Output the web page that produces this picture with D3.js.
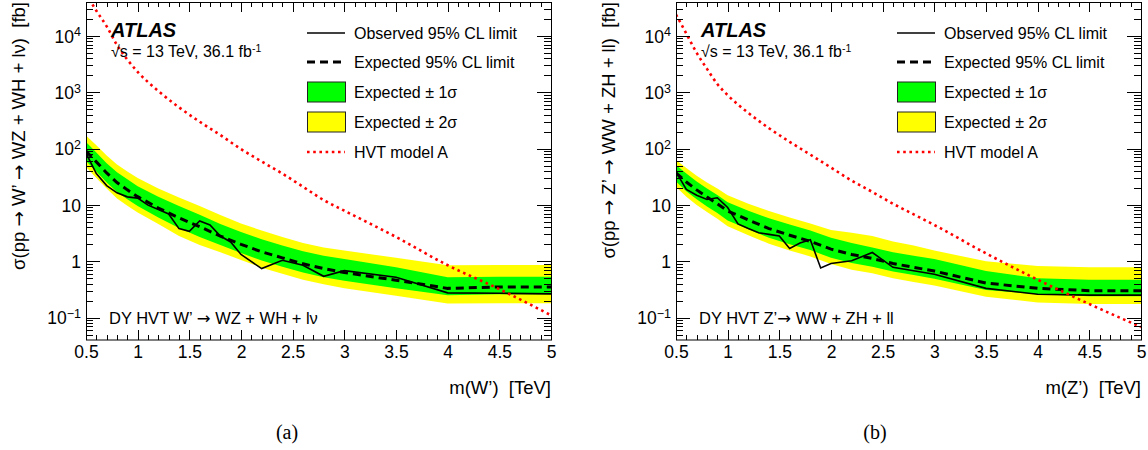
<!DOCTYPE html>
<html>
<head>
<meta charset="utf-8">
<script src="https://cdn.jsdelivr.net/npm/d3@7"></script>
<style>
  body { margin: 0; background: #fff; }
  svg { display: block; }
  text { font-family: "Liberation Sans", Arial, Helvetica, sans-serif; fill: #000; white-space: pre; }
</style>
</head>
<body>
<svg id="chart" width="1148" height="450"></svg>
<script>
// mass points (TeV) of the expected limit and its bands, same for both panels
const massGrid = [0.5, 0.6, 0.7, 0.8, 0.9, 1.0, 1.2, 1.4, 1.6, 1.8, 2.0, 2.2, 2.4, 2.6, 2.8, 3.0, 3.5, 4.0, 4.5, 5.0];

// (a) W' -> WZ + WH + lv   [fb]
const expA = [90, 58, 37, 25, 18.5, 14, 8.8, 5.9, 4.1, 2.8, 2.0, 1.47, 1.15, 0.9, 0.74, 0.63, 0.46, 0.33, 0.35, 0.35];
const plus2A = [170, 115, 75, 52, 39, 30, 19.5, 13.5, 9.6, 6.6, 4.7, 3.5, 2.7, 2.1, 1.75, 1.55, 1.15, 0.85, 0.86, 0.86];
const plus1A = [131, 85, 55, 38, 28.5, 21.5, 14, 9.6, 6.7, 4.6, 3.3, 2.45, 1.9, 1.5, 1.25, 1.1, 0.78, 0.52, 0.53, 0.53];
const minus1A = [60, 39, 25, 17, 12.6, 9.6, 6.0, 3.9, 2.7, 1.95, 1.4, 1.03, 0.8, 0.63, 0.52, 0.45, 0.33, 0.25, 0.26, 0.26];
const minus2A = [47, 30, 19.5, 13, 9.7, 7.3, 4.6, 2.8, 1.95, 1.45, 1.05, 0.77, 0.6, 0.47, 0.39, 0.33, 0.245, 0.178, 0.18, 0.18];
const obsMassA = [0.5, 0.6, 0.7, 0.8, 0.9, 1.0, 1.1, 1.2, 1.3, 1.4, 1.5, 1.6, 1.7, 1.8, 1.9, 2.0, 2.2, 2.4, 2.6, 2.8, 3.0, 3.5, 4.0, 4.5, 5.0];
const obsA = [83, 36, 22, 16.4, 13.9, 13.2, 9.9, 8.3, 6.9, 3.8, 3.4, 5.2, 4.4, 2.8, 2.2, 1.32, 0.74, 1.04, 0.85, 0.54, 0.68, 0.52, 0.275, 0.27, 0.264];
const hvtA = [56000, 28000, 14800, 6900, 3800, 2300, 1050, 540, 300, 174, 98, 59, 36, 21, 12.2, 7.9, 2.7, 0.85, 0.32, 0.11];

// (b) Z' -> WW + ZH + ll   [fb]
const expB = [37, 25.5, 18.5, 13.8, 10.5, 7.8, 5.4, 3.8, 2.9, 2.25, 1.64, 1.32, 1.12, 0.91, 0.78, 0.67, 0.41, 0.33, 0.30, 0.30];
const plus2B = [63, 45, 33, 25, 19.5, 14.8, 10.5, 7.8, 6.0, 4.7, 3.6, 3.2, 2.8, 2.25, 1.9, 1.55, 1.0, 0.82, 0.78, 0.78];
const plus1B = [51, 36, 26, 19.5, 15, 11.2, 7.9, 5.8, 4.5, 3.5, 2.6, 2.1, 1.76, 1.45, 1.25, 1.1, 0.67, 0.5, 0.47, 0.47];
const minus1B = [26, 17.5, 12.6, 9.4, 7.2, 5.3, 3.7, 2.6, 2.0, 1.58, 1.15, 0.93, 0.8, 0.66, 0.57, 0.49, 0.31, 0.26, 0.24, 0.24];
const minus2B = [21, 14, 10, 7.5, 5.7, 4.2, 2.9, 2.05, 1.55, 1.22, 0.89, 0.71, 0.61, 0.5, 0.43, 0.37, 0.235, 0.185, 0.175, 0.175];
const obsMassB = [0.5, 0.6, 0.7, 0.8, 0.9, 1.0, 1.1, 1.2, 1.3, 1.4, 1.5, 1.6, 1.7, 1.8, 1.9, 2.0, 2.2, 2.4, 2.6, 3.0, 3.5, 4.0, 4.5, 5.0];
const obsB = [38.7, 18.8, 14.9, 12.5, 13.4, 9.0, 4.6, 3.8, 3.2, 3.0, 2.8, 1.69, 2.1, 2.4, 0.76, 0.91, 1.02, 1.43, 0.78, 0.59, 0.33, 0.26, 0.25, 0.25];
const hvtB = [24000, 11000, 5000, 2600, 1400, 890, 430, 230, 132, 78, 46, 27, 17, 10.5, 6.8, 4.4, 1.38, 0.47, 0.174, 0.068];

// axis ticks and labels
const xMajor = [0.5, 1, 1.5, 2, 2.5, 3, 3.5, 4, 4.5, 5];
const xLabels = ["0.5", "1", "1.5", "2", "2.5", "3", "3.5", "4", "4.5", "5"];
const yMajor = [0.1, 1, 10, 100, 1000, 10000];
const yLabelBase = ["10", "1", "10", "10", "10", "10"];
const yLabelExp = ["\u22121", "", "", "2", "3", "4"];
const legendLabels = ["Observed 95% CL limit", "Expected 95% CL limit", "Expected \u00b1 1\u03c3", "Expected \u00b1 2\u03c3", "HVT model A"];

const svg = d3.select("#chart");

// writes a string, drawing the arrows with a font that has long arrows
const arrowText = (sel, s) => {
  s.split("\u2192").forEach((part, i) => {
    if (i > 0) sel.append("tspan").style("font-family", '"DejaVu Sans", sans-serif').text("\u2192");
    sel.append("tspan").text(part);
  });
};

const drawPanel = (p) => {
  const left = p.left;
  const top = 2;
  const width = 465;
  const height = 338;
  const x = d3.scaleLinear().domain([0.5, 5]).range([left, left + width]);
  const y = d3.scaleLog().domain([0.04, 40000]).range([top + height, top]);

  svg.append("clipPath").attr("id", "clip" + p.id)
    .append("rect").attr("x", left).attr("y", top).attr("width", width).attr("height", height);

  const plot = svg.append("g").attr("clip-path", `url(#clip${p.id})`);

  const band = (hi, lo) => massGrid.map((m, i) => ({ m: m, hi: hi[i], lo: lo[i] }));
  const area = d3.area().x(d => x(d.m)).y0(d => y(d.lo)).y1(d => y(d.hi));
  const line = d3.line().x(d => x(d.m)).y(d => y(d.v));

  plot.append("path").attr("d", area(band(p.plus2, p.minus2))).attr("fill", "#ffff00");
  plot.append("path").attr("d", area(band(p.plus1, p.minus1))).attr("fill", "#00ff00");

  plot.append("path")
    .attr("d", line(massGrid.map((m, i) => ({ m: m, v: p.exp[i] }))))
    .attr("fill", "none").attr("stroke", "#000").attr("stroke-width", 3)
    .attr("stroke-dasharray", "8,5");

  plot.append("path")
    .attr("d", line(p.obsMass.map((m, i) => ({ m: m, v: p.obs[i] }))))
    .attr("fill", "none").attr("stroke", "#000").attr("stroke-width", 1.6);

  plot.append("path")
    .attr("d", d3.line().curve(d3.curveMonotoneX).x(d => x(d.m)).y(d => y(d.v))(massGrid.map((m, i) => ({ m: m, v: p.hvt[i] }))))
    .attr("fill", "none").attr("stroke", "#ff0000").attr("stroke-width", 2.6)
    .attr("stroke-dasharray", "2.6,3.6");

  // ROOT style ticks inside the frame, on all four sides
  const yMinor = [];
  [0.01, 0.1, 1, 10, 100, 1000, 10000].forEach(dec => {
    for (let k = 2; k <= 9; k++) {
      const v = dec * k;
      if (v > 0.04 && v < 40000) yMinor.push(v);
    }
  });
  const xMinor = d3.range(5, 51).map(k => k / 10).filter(v => !xMajor.some(t => Math.abs(t - v) < 1e-6));

  const axes = svg.append("g").attr("shape-rendering", "crispEdges");
  const noDomain = g => g.select(".domain").remove();

  axes.append("g").attr("transform", `translate(0,${top + height})`)
    .call(d3.axisBottom(x).tickValues(xMinor).tickSize(-5).tickFormat("")).call(noDomain);
  axes.append("g").attr("transform", `translate(0,${top})`)
    .call(d3.axisTop(x).tickValues(xMinor).tickSize(-5).tickFormat("")).call(noDomain);
  axes.append("g").attr("transform", `translate(0,${top})`)
    .call(d3.axisTop(x).tickValues(xMajor).tickSize(-10).tickFormat("")).call(noDomain);
  const xAx = axes.append("g").attr("transform", `translate(0,${top + height})`)
    .call(d3.axisBottom(x).tickValues(xMajor).tickSize(-10).tickPadding(6).tickFormat((d, i) => xLabels[i]))
    .call(noDomain);
  xAx.selectAll("text").attr("font-size", 17.5).style("font-family", '"Liberation Sans", Arial, sans-serif');

  axes.append("g").attr("transform", `translate(${left},0)`)
    .call(d3.axisLeft(y).tickValues(yMinor).tickSize(-7).tickFormat("")).call(noDomain);
  axes.append("g").attr("transform", `translate(${left + width},0)`)
    .call(d3.axisRight(y).tickValues(yMinor).tickSize(-7).tickFormat("")).call(noDomain);
  axes.append("g").attr("transform", `translate(${left + width},0)`)
    .call(d3.axisRight(y).tickValues(yMajor).tickSize(-14).tickFormat("")).call(noDomain);
  const yAx = axes.append("g").attr("transform", `translate(${left},0)`)
    .call(d3.axisLeft(y).tickValues(yMajor).tickSize(-14).tickFormat("")).call(noDomain);

  yAx.selectAll(".tick").each(function (d, i) {
    const t = d3.select(this).append("text")
      .attr("x", -5).attr("dy", "0.36em").attr("text-anchor", "end")
      .attr("font-size", 17.5).style("font-family", '"Liberation Sans", Arial, sans-serif');
    t.append("tspan").text(yLabelBase[i]);
    if (yLabelExp[i]) t.append("tspan").attr("dy", "-0.5em").attr("font-size", 12.5).text(yLabelExp[i]);
  });

  svg.append("rect").attr("x", left + 0.5).attr("y", top + 0.5).attr("width", width).attr("height", height - 0.5)
    .attr("fill", "none").attr("stroke", "#000").attr("stroke-width", 1);

  // axis titles
  svg.append("text").attr("x", left + width).attr("y", 394).attr("text-anchor", "end")
    .attr("font-size", 18.5).text(p.xTitle);
  const yt = svg.append("text").attr("transform", `translate(${left - 61},${top}) rotate(-90)`)
    .attr("text-anchor", "end").attr("font-size", 18.5);
  arrowText(yt, p.yTitle);

  // ATLAS label
  svg.append("text").attr("x", left + 25).attr("y", 37).attr("font-size", 20)
    .attr("font-weight", "bold").attr("font-style", "italic").text("ATLAS");
  const sq = svg.append("text").attr("x", left + 25).attr("y", 57).attr("font-size", 16);
  sq.append("tspan").text("\u221as = 13 TeV, 36.1 fb");
  sq.append("tspan").attr("dy", "-0.45em").attr("font-size", 10.5).text("-1");

  const proc = svg.append("text").attr("x", left + 23).attr("y", 324).attr("font-size", 16.5);
  arrowText(proc, p.process);

  // legend
  const lg = svg.append("g").attr("transform", `translate(${left + 221},0)`);
  const rowY = [33, 62, 92, 122, 152];
  lg.append("line").attr("x1", 0).attr("x2", 38).attr("y1", rowY[0]).attr("y2", rowY[0])
    .attr("stroke", "#000").attr("stroke-width", 1.6);
  lg.append("line").attr("x1", 0).attr("x2", 38).attr("y1", rowY[1]).attr("y2", rowY[1])
    .attr("stroke", "#000").attr("stroke-width", 3).attr("stroke-dasharray", "8,5");
  lg.append("rect").attr("x", 0.5).attr("y", rowY[2] - 10).attr("width", 38).attr("height", 20)
    .attr("fill", "#00ff00").attr("stroke", "#222").attr("stroke-width", 1);
  lg.append("rect").attr("x", 0.5).attr("y", rowY[3] - 10).attr("width", 38).attr("height", 20)
    .attr("fill", "#ffff00").attr("stroke", "#222").attr("stroke-width", 1);
  lg.append("line").attr("x1", 0).attr("x2", 38).attr("y1", rowY[4]).attr("y2", rowY[4])
    .attr("stroke", "#ff0000").attr("stroke-width", 2.6).attr("stroke-dasharray", "2.6,3.6");
  legendLabels.forEach((s, i) => {
    lg.append("text").attr("x", 47).attr("y", rowY[i]).attr("dy", "0.36em").attr("font-size", 16).text(s);
  });

  svg.append("text").attr("x", p.capX).attr("y", 439).attr("text-anchor", "middle")
    .attr("font-size", 20).style("font-family", '"Liberation Serif", "DejaVu Serif", serif').text(p.caption);
};

drawPanel({
  id: "a", left: 86, exp: expA, plus2: plus2A, plus1: plus1A, minus1: minus1A, minus2: minus2A,
  obsMass: obsMassA, obs: obsA, hvt: hvtA,
  xTitle: "m(W\u2019)  [TeV]",
  yTitle: "\u03c3(pp \u2192 W\u2019 \u2192 WZ + WH + l\u03bd)  [fb]",
  process: "DY HVT W\u2019 \u2192 WZ + WH + l\u03bd",
  caption: "(a)", capX: 287
});
drawPanel({
  id: "b", left: 676, exp: expB, plus2: plus2B, plus1: plus1B, minus1: minus1B, minus2: minus2B,
  obsMass: obsMassB, obs: obsB, hvt: hvtB,
  xTitle: "m(Z\u2019)  [TeV]",
  yTitle: "\u03c3(pp \u2192 Z\u2019 \u2192 WW + ZH + ll)  [fb]",
  process: "DY HVT Z\u2019\u2192 WW + ZH + ll",
  caption: "(b)", capX: 875
});
</script>
</body>
</html>
